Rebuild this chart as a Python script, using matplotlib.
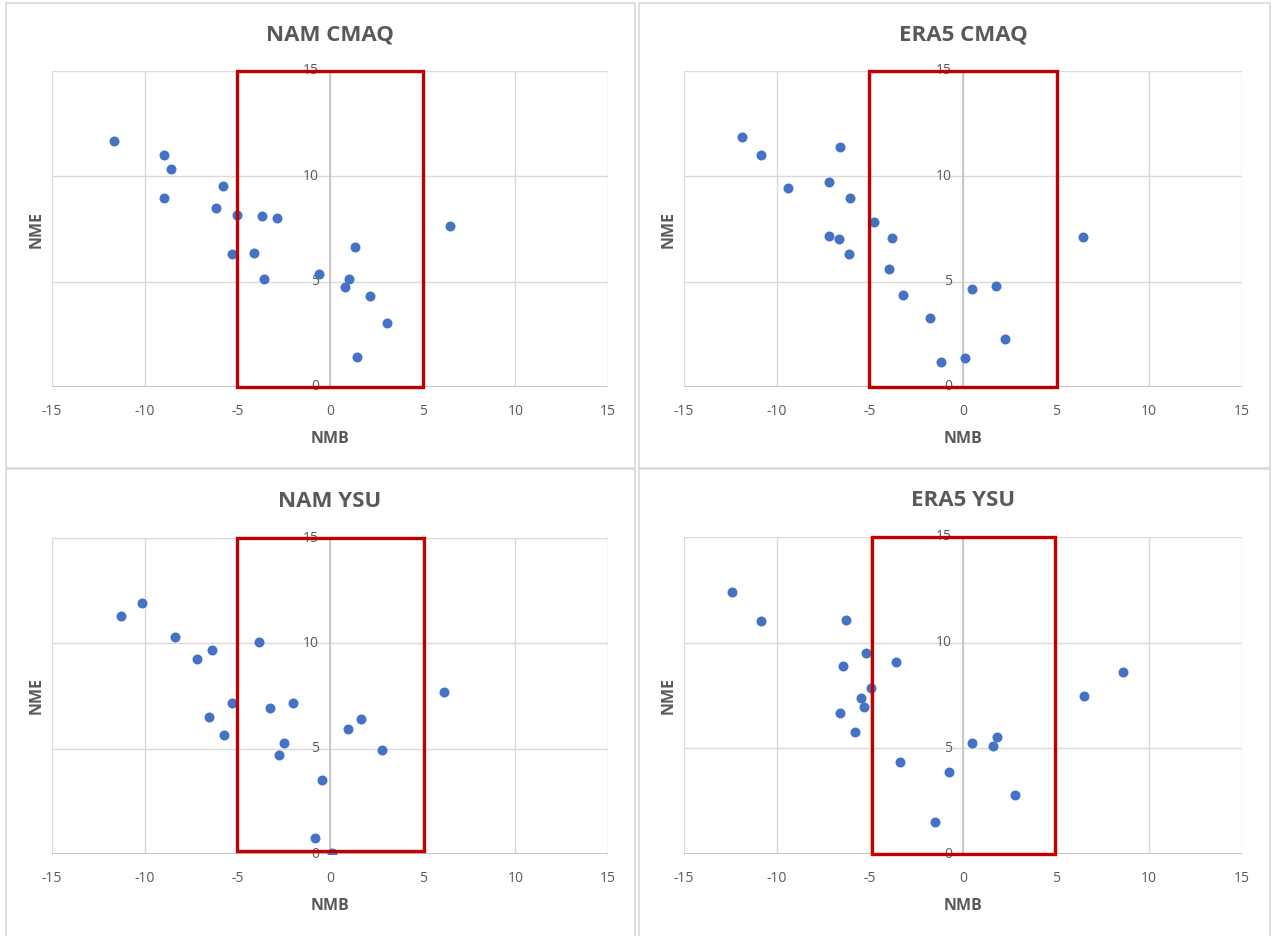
import matplotlib.pyplot as plt
from matplotlib.patches import Rectangle

plt.rcParams["font.family"] = ["Open Sans", "DejaVu Sans"]
plt.rcParams["axes.unicode_minus"] = False

# NMB (x) and NME (y) per run
nam_cmaq_nmb = [-11.67, -8.96, -8.59, -5.75, -8.96, -6.17, -5.0, -3.66, -2.86, 6.45,
                1.34, -5.31, -4.10, -3.57, -0.59, 1.04, 0.79, 2.16, 3.06, 1.43]
nam_cmaq_nme = [11.68, 11.0, 10.37, 9.54, 8.98, 8.51, 8.18, 8.13, 8.02, 7.63,
                6.66, 6.33, 6.36, 5.15, 5.35, 5.15, 4.75, 4.31, 3.05, 1.44]

era5_cmaq_nmb = [-11.88, -10.87, -6.59, -9.40, -7.23, -6.06, -4.81, -7.18, -6.68, -3.80,
                 6.44, -6.11, -3.98, -3.21, 0.46, 1.76, -1.76, 2.26, -1.16, 0.11]
era5_cmaq_nme = [11.88, 11.0, 11.41, 9.43, 9.72, 8.96, 7.82, 7.18, 7.01, 7.06,
                 7.10, 6.30, 5.59, 4.37, 4.65, 4.78, 3.26, 2.29, 1.19, 1.36]

nam_ysu_nmb = [-11.28, -10.15, -8.35, -3.83, -6.34, -7.16, 6.15, -5.31, -2.0, -3.24,
               -6.54, 1.67, 0.97, -5.73, -2.49, -2.73, 2.80, -0.42, -0.79, 0.09]
nam_ysu_nme = [11.30, 11.90, 10.29, 10.08, 9.66, 9.25, 7.67, 7.16, 7.16, 6.95,
               6.50, 6.40, 5.94, 5.67, 5.29, 4.71, 4.92, 3.49, 0.77, 0.05]

era5_ysu_nmb = [-12.43, -10.87, -6.28, -5.21, -3.60, -6.46, 8.59, -4.92, -5.47, 6.48,
                -5.32, -6.63, -5.78, 0.51, 1.82, 1.63, -3.38, -0.77, 2.81, -1.49]
era5_ysu_nme = [12.42, 11.02, 11.06, 9.50, 9.07, 8.91, 8.60, 7.86, 7.40, 7.48,
                6.97, 6.67, 5.78, 5.23, 5.53, 5.11, 4.35, 3.89, 2.81, 1.52]

titles = ["NAM CMAQ", "ERA5 CMAQ", "NAM YSU", "ERA5 YSU"]
xticks = [-15, -10, -5, 0, 5, 10, 15]
yticks = [0, 5, 10, 15]

# red highlight boxes (x0, x1, y0, y1) drawn on each panel
boxes = [(-5.0, 5.0, 0.0, 15.0), (-5.05, 5.05, 0.0, 15.0),
         (-5.0, 5.05, 0.15, 15.0), (-4.9, 4.95, 0.0, 15.0)]

series = [(nam_cmaq_nmb, nam_cmaq_nme), (era5_cmaq_nmb, era5_cmaq_nme),
          (nam_ysu_nmb, nam_ysu_nme), (era5_ysu_nmb, era5_ysu_nme)]

W, H = 1275, 936
fig = plt.figure(figsize=(W / 100, H / 100), dpi=100)

# plot areas in pixels: left, top, right, bottom
areas = [(52, 71, 608, 387), (684, 71, 1242, 387),
         (52, 538, 608, 854), (684, 537, 1242, 854)]
# chart borders in pixels
frames = [(6, 3, 635, 468), (639, 3, 1270, 468),
          (6, 469, 635, 940), (639, 469, 1270, 940)]

grey = "#595959"

for (l, t, r, b) in frames:
    fig.add_artist(Rectangle((l / W, 1 - b / H), (r - l) / W, (b - t) / H,
                             transform=fig.transFigure, fill=False,
                             edgecolor="#D9D9D9", lw=1.2))

for i, (l, t, r, b) in enumerate(areas):
    ax = fig.add_axes([l / W, 1 - b / H, (r - l) / W, (b - t) / H])
    x, y = series[i]
    ax.set_xlim(-15, 15)
    ax.set_ylim(0, 15)
    ax.set_xticks(xticks)
    ax.set_yticks(yticks)
    ax.set_yticklabels([])
    ax.tick_params(axis="both", length=0)
    ax.tick_params(axis="x", pad=12, labelsize=10, labelcolor=grey)
    ax.grid(True, color="#D9D9D9", lw=1)
    ax.set_axisbelow(True)
    for s in ax.spines.values():
        s.set_visible(False)
    ax.axvline(0, color="#BFBFBF", lw=1.1, zorder=1)
    ax.axhline(0, color="#BFBFBF", lw=1.3, zorder=1)

    for v in yticks:
        ax.text(-0.6, v, str(v), ha="right", va="center", fontsize=10,
                color=grey, zorder=2)

    ax.scatter(x, y, s=52, color="#4472C4", zorder=3, linewidths=0)

    x0, x1, y0, y1 = boxes[i]
    ax.add_patch(Rectangle((x0, y0), x1 - x0, y1 - y0, fill=False,
                           edgecolor="#C00000", lw=2.4, zorder=4, clip_on=False))

    ax.set_title(titles[i], fontsize=16, fontweight="bold", color=grey, pad=22)
    ax.set_xlabel("NMB", fontsize=11.5, fontweight="bold", color=grey, labelpad=9)
    ax.set_ylabel("NME", fontsize=11.5, fontweight="bold", color=grey, labelpad=2)

fig.savefig("out.png", dpi=100, facecolor="white")
